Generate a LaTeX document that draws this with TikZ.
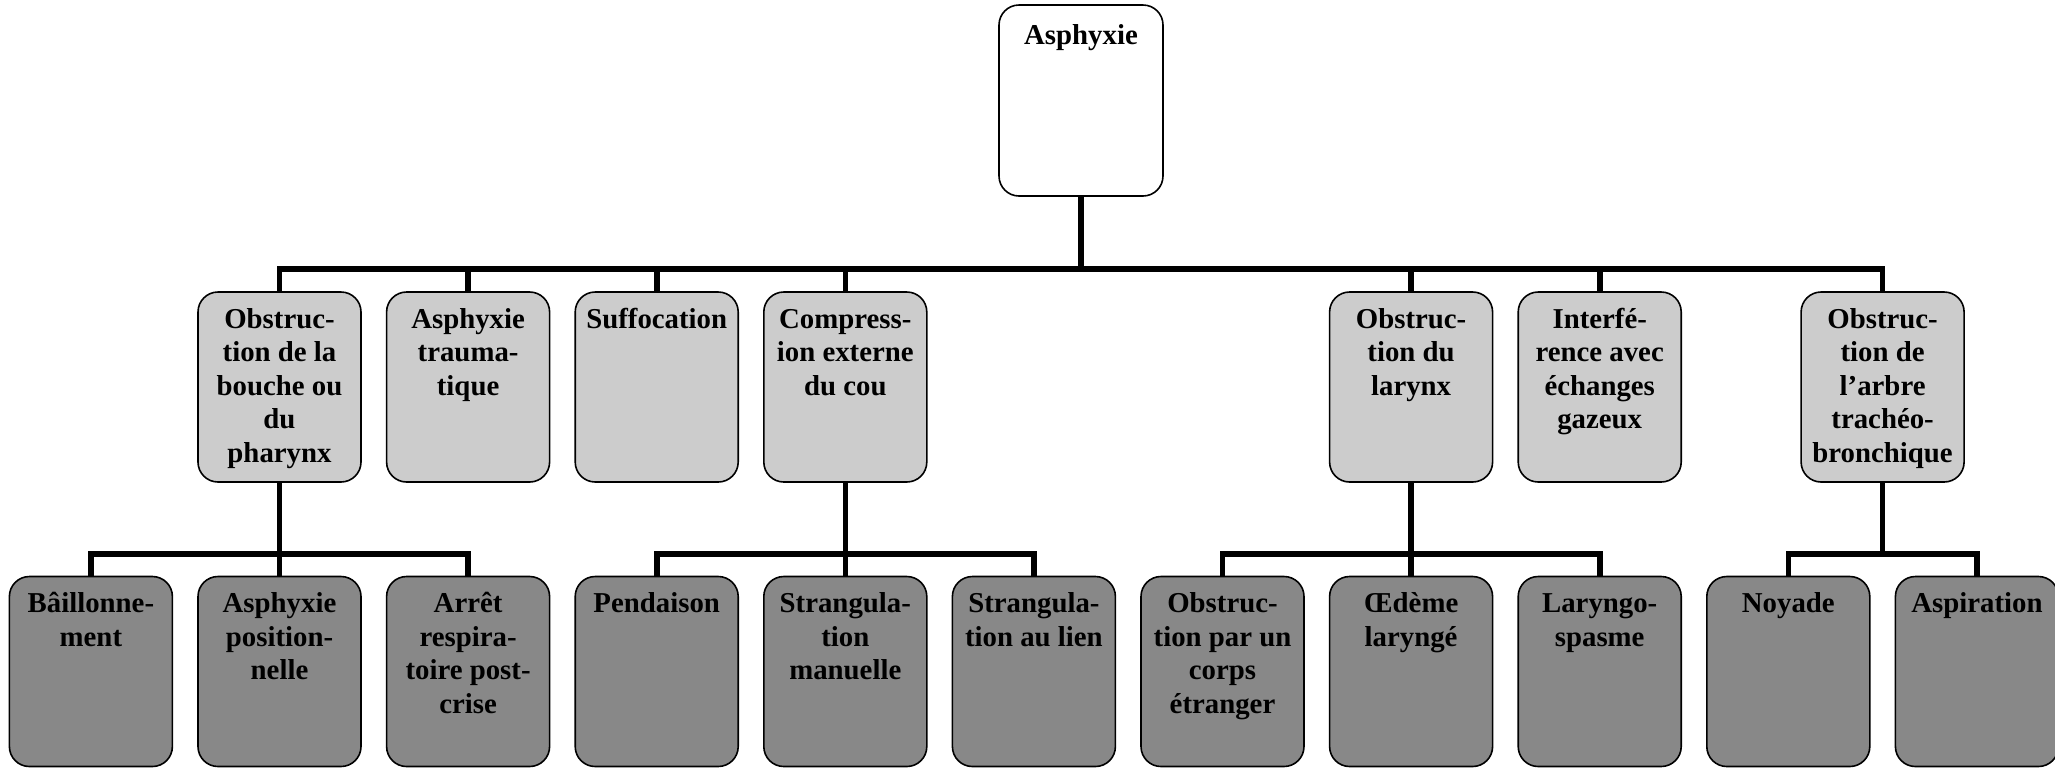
\documentclass[tikz,border=0pt]{standalone}
\usepackage{fontspec}
\setmainfont{Liberation Serif}
\definecolor{lvlbgray}{RGB}{204,204,204}
\definecolor{lvlcgray}{RGB}{136,136,136}
\newcommand{\boxtext}[2][6.3pt]{\parbox[c][95pt][t]{80pt}{\centering\fontsize{14.4}{16.75}\selectfont\bfseries\vspace*{#1}\strut #2\par}}
\tikzset{
  box/.style={draw=black, line width=0.8pt, rounded corners=10pt, minimum width=81.5pt, minimum height=95pt, inner sep=0pt},
  lvla/.style={box, fill=white, minimum width=82pt, minimum height=95.5pt},
  lvlb/.style={box, fill=lvlbgray},
  lvlc/.style={box, fill=lvlcgray},
  conn/.style={line width=2.8pt}
}
\begin{document}
\begin{tikzpicture}[x=0.5pt,y=-0.5pt]
\path[use as bounding box] (0,0) rectangle (2055,767);
% level 1
\node[lvla] (top) at (1081,100.5) {\boxtext[8pt]{Asphyxie}};
% level 2
\node[lvlb] (b0) at (279.5,387) {\boxtext{Obstruc-\\tion de la\\bouche ou\\du\\pharynx}};
\node[lvlb] (b1) at (468.1,387) {\boxtext{Asphyxie\\trauma-\\tique}};
\node[lvlb] (b2) at (656.7,387) {\boxtext{Suffocation}};
\node[lvlb] (b3) at (845.3,387) {\boxtext{Compress-\\ion externe\\du cou}};
\node[lvlb] (b6) at (1411.1,387) {\boxtext{Obstruc-\\tion du\\larynx}};
\node[lvlb] (b7) at (1599.7,387) {\boxtext{Interfé-\\rence avec\\échanges\\gazeux}};
\node[lvlb] (b8) at (1882.6,387) {\boxtext{Obstruc-\\tion de\\l’arbre\\trachéo-\\bronchique}};
% level 3
\node[lvlc] (c0) at (90.9,671.5) {\boxtext{Bâillonne-\\ment}};
\node[lvlc] (c1) at (279.5,671.5) {\boxtext{Asphyxie\\position-\\nelle}};
\node[lvlc] (c2) at (468.1,671.5) {\boxtext{Arrêt\\respira-\\toire post-\\crise}};
\node[lvlc] (c3) at (656.7,671.5) {\boxtext{Pendaison}};
\node[lvlc] (c4) at (845.3,671.5) {\boxtext{Strangula-\\tion\\manuelle}};
\node[lvlc] (c5) at (1033.9,671.5) {\boxtext{Strangula-\\tion au lien}};
\node[lvlc] (c6) at (1222.5,671.5) {\boxtext{Obstruc-\\tion par un\\corps\\étranger}};
\node[lvlc] (c7) at (1411.1,671.5) {\boxtext{Œdème\\laryngé}};
\node[lvlc] (c8) at (1599.7,671.5) {\boxtext{Laryngo-\\spasme}};
\node[lvlc] (c9) at (1788.3,671.5) {\boxtext{Noyade}};
\node[lvlc] (c10) at (1976.9,671.5) {\boxtext{Aspiration}};
% connectors level 1 -> 2
\foreach \n in {b0,b1,b2,b3,b6,b7,b8}
  \draw[conn] (top.south) -- ++(0,72) -| (\n.north);
% connectors level 2 -> 3
\foreach \n in {c0,c1,c2}
  \draw[conn] (b0.south) -- ++(0,71) -| (\n.north);
\foreach \n in {c3,c4,c5}
  \draw[conn] (b3.south) -- ++(0,71) -| (\n.north);
\foreach \n in {c6,c7,c8}
  \draw[conn] (b6.south) -- ++(0,71) -| (\n.north);
\foreach \n in {c9,c10}
  \draw[conn] (b8.south) -- ++(0,71) -| (\n.north);
\end{tikzpicture}
\end{document}
